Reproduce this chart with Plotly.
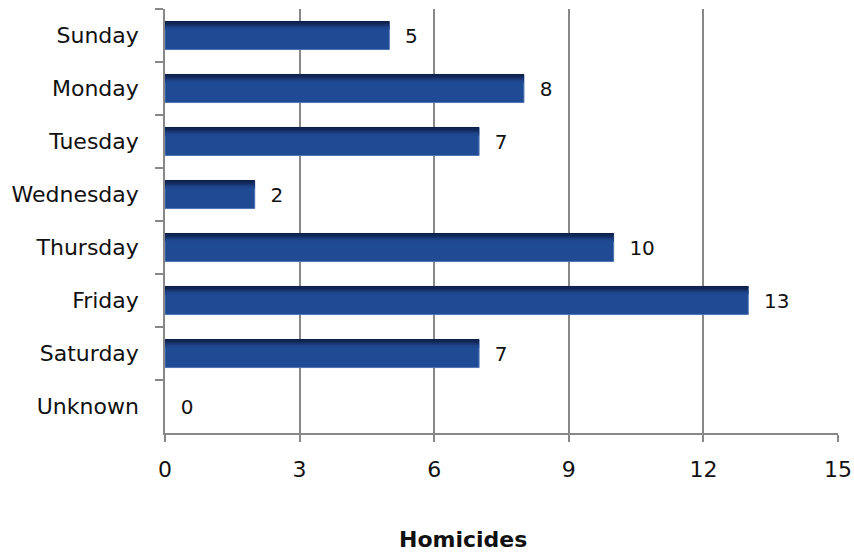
import plotly.graph_objects as go

days = ["Sunday", "Monday", "Tuesday", "Wednesday", "Thursday", "Friday", "Saturday", "Unknown"]
homicides = [5, 8, 7, 2, 10, 13, 7, 0]
x_ticks = [0, 3, 6, 9, 12, 15]

font_family = "DejaVu Sans"
BAR_W = 0.53

fig = go.Figure()
fig.add_trace(go.Bar(
    y=days, x=homicides, orientation="h",
    marker=dict(color="#1F4B95", line=dict(color="#4F74B4", width=[1 if v > 0 else 0 for v in homicides])),
    width=BAR_W,
    text=["  " + str(v) for v in homicides], textposition="outside",
    textfont=dict(family=font_family, size=20, color="#111"),
    cliponaxis=False, showlegend=False, hoverinfo="skip",
))
# darker gradient strips at the top of each bar
strip = 0.019
shades = ["#0E1F45", "#112654", "#142D62", "#18356F", "#1B3C7C", "#1E4387", "#1F478F"]
for i, col in enumerate(shades):
    fig.add_trace(go.Bar(
        y=days, x=homicides, orientation="h",
        marker=dict(color=col, line=dict(width=0)),
        width=strip + 0.002, offset=-BAR_W / 2 + 0.01 + i * strip,
        showlegend=False, hoverinfo="skip",
    ))
fig.update_layout(
    barmode="overlay",
    width=854, height=552,
    margin=dict(l=165, r=16, t=9, b=119, autoexpand=False),
    plot_bgcolor="white", paper_bgcolor="white",
    font=dict(family=font_family, size=20, color="#111"),
    xaxis=dict(
        range=[0, 15], tickvals=x_ticks, ticktext=[str(t) for t in x_ticks],
        showgrid=True, gridcolor="#888", gridwidth=1.5,
        showline=True, linecolor="#888", linewidth=1.5,
        ticks="outside", ticklen=7, tickcolor="#888", tickwidth=1.5,
        tickfont=dict(size=22), ticklabelstandoff=9,
        zeroline=False, automargin=False,
    ),
    yaxis=dict(
        categoryorder="array", categoryarray=days, autorange="reversed",
        showline=True, linecolor="#888", linewidth=1.5,
        ticks="outside", tickson="boundaries", ticklen=8, tickcolor="#888", tickwidth=1.5,
        tickfont=dict(size=22), showgrid=False, ticklabelstandoff=20,
        automargin=False,
    ),
    annotations=[dict(
        text="<b>Homicides</b>", xref="paper", yref="paper",
        x=0.443, y=-0.252, xanchor="center", yanchor="middle",
        showarrow=False, font=dict(size=22, color="#111"),
    )],
)
fig.write_html("out.html", config={"displayModeBar": False},
               post_script="document.body.style.margin='0px';")
